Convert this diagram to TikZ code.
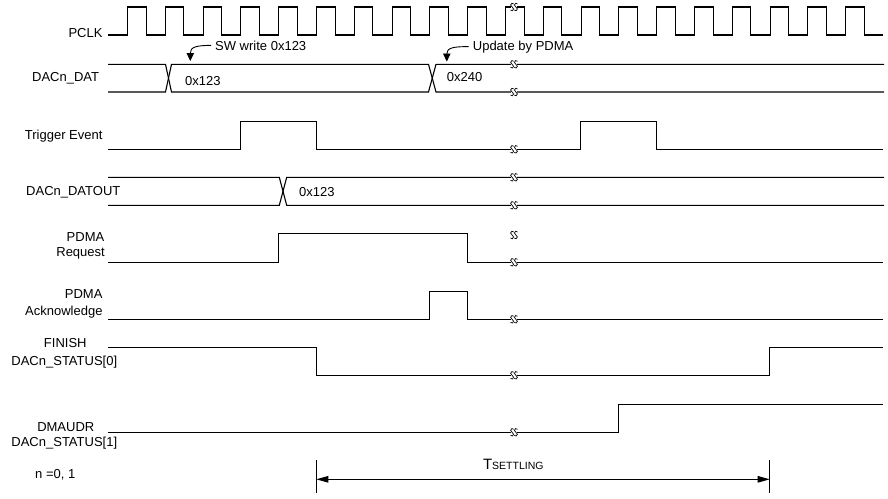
\documentclass[tikz,border=0pt]{standalone}
\usepackage{fontspec}
\setmainfont{Liberation Sans}
\usetikzlibrary{arrows.meta}
\begin{document}
\begin{tikzpicture}[x=1pt,y=-1pt,
  sig/.style={line width=1.1pt, line join=miter},
  lbl/.style={inner sep=0pt, font=\fontsize{13}{15}\selectfont},
  note/.style={line width=0.9pt, -{Triangle[length=8pt,width=7.5pt]}},
  brk/.pic={
    \fill[white] (-3.3,-2.2) rectangle (3.3,2.2);
    \foreach \dx in {-1.9,1.9}{
      \draw[line width=0.7pt, shift={(\dx,0)}]
        (1.6,-3.0) .. controls (1.2,-4.3) and (-1.8,-4.0) .. (-1.5,-2.0)
        .. controls (-1.2,-0.5) and (1.2,0.5) .. (1.5,2.0)
        .. controls (1.8,4.0) and (-1.2,4.3) .. (-1.6,3.0);
    }
  }]
\useasboundingbox (0,0) rectangle (888,498);

% ---------- labels ----------
\node[lbl, anchor=base east] (lclk) at (102.7,37.7) {PCLK};
\node[lbl, anchor=base east] (ldat) at (99.3,81.7) {DACn\_DAT};
\node[lbl, anchor=base east] (ltrg) at (102.7,139.3) {Trigger Event};
\node[lbl, anchor=base west] (lout) at (26,195.3) {DACn\_DATOUT};
\node[lbl, anchor=base east] (lreq1) at (104.5,241) {PDMA};
\node[lbl, anchor=base east] (lreq2) at (105,256) {Request};
\node[lbl, anchor=base east] (lack1) at (102.7,298.5) {PDMA};
\node[lbl, anchor=base east] (lack2) at (102.7,315) {Acknowledge};
\node[lbl, anchor=base] (lfin1) at (65.3,347.7) {FINISH};
\node[lbl, anchor=base] (lfin2) at (64.3,365) {DACn\_STATUS[0]};
\node[lbl, anchor=base] (ludr1) at (65.8,431.7) {DMAUDR};
\node[lbl, anchor=base] (ludr2) at (64.3,446.7) {DACn\_STATUS[1]};
\node[lbl, anchor=base west] (lnn) at (35,478.3) {n =0, 1};

% ---------- PCLK ----------
\draw[sig] (108,35) \foreach \k in {0,...,19}{
   -- ({127.5+37.8*\k},35) |- ({146.1+37.8*\k},7) -- ({146.1+37.8*\k},35) } -- (883,35);

% ---------- DACn_DAT ----------
\draw[sig] (108,64.3) -- (165.5,64.3) -- (171.5,92) -- (428.5,92) -- (436,64.3) -- (884,64.3);
\draw[sig] (108,92) -- (165.5,92) -- (171.5,64.3) -- (428.5,64.3) -- (436,92) -- (884,92);
\node[lbl, anchor=base west] (v1) at (185,85) {0x123};
\node[lbl, anchor=base west] (v2) at (446.7,81.7) {0x240};

% annotations
\node[lbl, anchor=base west] (sw) at (215,50) {SW write 0x123};
\draw[note] ([xshift=-4pt]sw.west) .. controls (196,45.5) and (190.3,47) .. (190.3,61);
\node[lbl, anchor=base west] (upd) at (472.7,50) {Update by PDMA};
\draw[note] ([xshift=-4pt]upd.west) .. controls (453,46.5) and (446.8,48) .. (446.8,61.5);

% ---------- Trigger Event ----------
\draw[sig] (108,149.3) -- (240.7,149.3) -- (240.7,121.7) -- (316.3,121.7) -- (316.3,149.3)
  -- (580.8,149.3) -- (580.8,121.7) -- (656.7,121.7) -- (656.7,149.3) -- (883,149.3);

% ---------- DACn_DATOUT ----------
\draw[sig] (108,177.3) -- (279.3,177.3) -- (286.7,205.3) -- (884,205.3);
\draw[sig] (108,205.3) -- (279.3,205.3) -- (286.7,177.3) -- (884,177.3);
\node[lbl, anchor=base west] (v3) at (299,196) {0x123};

% ---------- PDMA Request ----------
\draw[sig] (108,262.3) -- (278.5,262.3) -- (278.5,233.3) -- (467.5,233.3) -- (467.5,262.3) -- (883,262.3);

% ---------- PDMA Acknowledge ----------
\draw[sig] (108,319.3) -- (429.6,319.3) -- (429.6,291.7) -- (467.5,291.7) -- (467.5,319.3) -- (883,319.3);

% ---------- FINISH ----------
\draw[sig] (108,347.3) -- (316.3,347.3) -- (316.3,375.3) -- (769.7,375.3) -- (769.7,347.3) -- (883,347.3);

% ---------- DMAUDR ----------
\draw[sig] (108,432.3) -- (618.7,432.3) -- (618.7,404.3) -- (883,404.3);

% ---------- break marks ----------
\foreach \yy in {7,64.3,92,149.3,177.3,205.3,235,262.3,319.3,375.3,432.3}{
  \pic at (514,\yy) {brk};
}

% ---------- T settling ----------
\coordinate (tsL) at (316.3,479.3);
\coordinate (tsR) at (769.7,479.3);
\draw[sig] (316.3,460) -- (316.3,493.3);
\draw[sig] (769.7,460) -- (769.7,493.3);
\draw[line width=1.1pt, {Triangle[length=12pt,width=6.5pt]}-{Triangle[length=12pt,width=6.5pt]}] (tsL) -- (tsR);
\node[inner sep=0pt, anchor=base west] (tset) at (482.8,469.5)
  {{\fontsize{15}{15}\selectfont T}{\fontsize{10.5}{10.5}\selectfont SETTLING}};
\end{tikzpicture}
\end{document}
